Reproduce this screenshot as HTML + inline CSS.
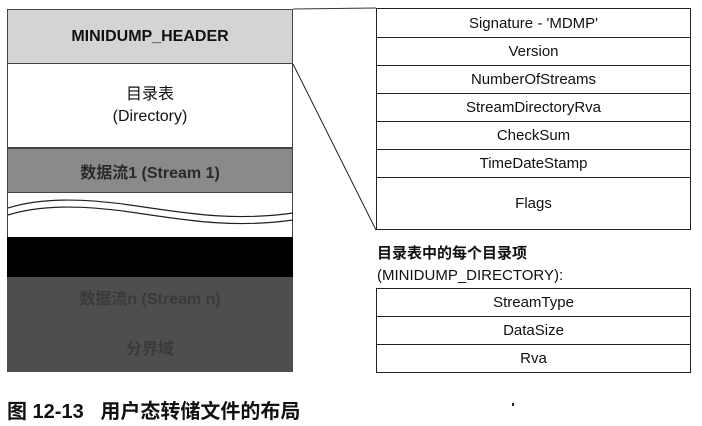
<!DOCTYPE html>
<html><head><meta charset="utf-8"><style>
body{margin:0;background:#fff;width:702px;height:426px;overflow:hidden;position:relative;font-family:"Liberation Sans","Noto Sans CJK SC",sans-serif;}
.a{position:absolute;box-sizing:border-box;}
.c{display:flex;align-items:center;justify-content:center;text-align:center;color:#111;font-size:15px;}
.row{position:absolute;left:376px;width:315px;border:1px solid #222;box-sizing:border-box;display:flex;align-items:center;justify-content:center;font-size:15px;color:#111;}
</style></head><body>
<div class="a c" style="left:7px;top:9px;width:286px;height:55px;background:#d4d4d4;border:1px solid #444;font-size:16px;font-weight:bold;">MINIDUMP_HEADER</div>
<div class="a c" style="left:7px;top:64px;width:286px;height:84px;background:#fff;border:1px solid #444;border-top:none;line-height:22px;font-size:16px;">目录表<br>(Directory)</div>
<div class="a c" style="left:7px;top:148px;width:286px;height:45px;background:#8a8a8a;border:1px solid #444;font-size:16px;font-weight:bold;color:#2a2a2a;">数据流1 (Stream 1)</div>
<div class="a" style="left:7px;top:193px;width:286px;height:44px;background:#fff;border-left:1px solid #444;border-right:1px solid #444;"></div>
<div class="a" style="left:7px;top:237px;width:286px;height:40px;background:#000;"></div>
<div class="a c" style="left:7px;top:277px;width:286px;height:95px;background:#4e4e4e;flex-direction:column;color:#3a3a3a;font-weight:bold;font-size:16px;line-height:50px;">数据流n (Stream n)<br>分界域</div>
<svg class="a" style="left:0;top:0" width="702" height="426">
<path d="M8 208 C40 198,80 198,130 205 S230 222,293 213" fill="none" stroke="#222" stroke-width="1.2"/>
<path d="M8 215 C40 205,80 205,130 212 S230 229,293 220" fill="none" stroke="#222" stroke-width="1.2"/>
<line x1="293" y1="9" x2="376" y2="8" stroke="#333"/>
<line x1="293" y1="64" x2="376" y2="230" stroke="#222"/>
</svg>
<div class="row" style="top:8px;height:30px;">Signature - 'MDMP'</div>
<div class="row" style="top:37px;height:29px;">Version</div>
<div class="row" style="top:65px;height:29px;">NumberOfStreams</div>
<div class="row" style="top:93px;height:29px;">StreamDirectoryRva</div>
<div class="row" style="top:121px;height:29px;">CheckSum</div>
<div class="row" style="top:149px;height:29px;">TimeDateStamp</div>
<div class="row" style="top:177px;height:53px;">Flags</div>
<div class="a" style="left:377px;top:243px;font-size:15px;font-weight:bold;line-height:22px;color:#111;">目录表中的每个目录项<br><span style="font-weight:normal">(MINIDUMP_DIRECTORY):</span></div>
<div class="row" style="top:288px;height:29px;">StreamType</div>
<div class="row" style="top:316px;height:29px;">DataSize</div>
<div class="row" style="top:344px;height:29px;">Rva</div>
<div class="a" style="left:7px;top:395px;font-size:20px;font-weight:bold;color:#111;white-space:pre;">图 12-13   用户态转储文件的布局</div>
<div class="a" style="left:512px;top:403px;width:2px;height:3px;background:#222;"></div>
</body></html>
